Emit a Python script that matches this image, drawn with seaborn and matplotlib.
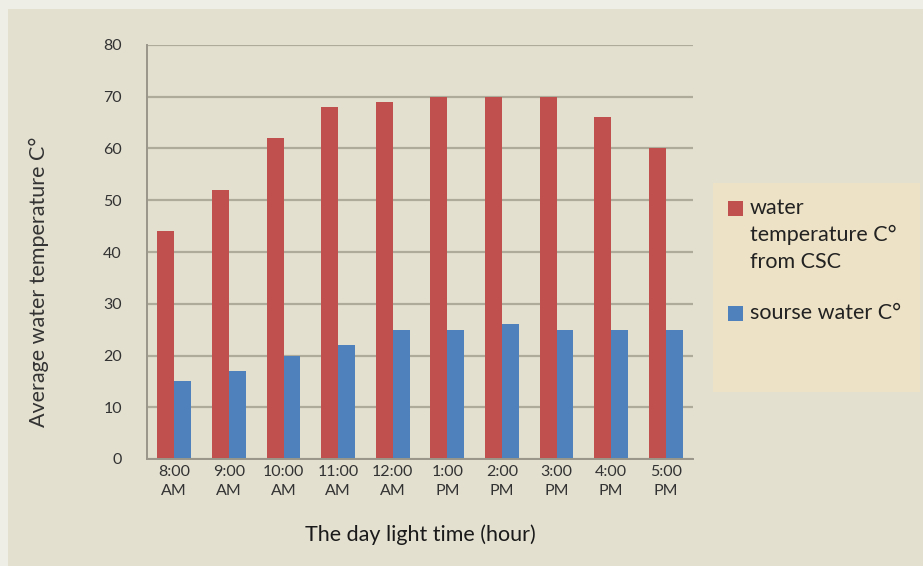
import matplotlib
matplotlib.use("Agg")
import matplotlib.pyplot as plt
import matplotlib.patches as mpatches
import seaborn as sns
import pandas as pd

times = ["8:00\nAM", "9:00\nAM", "10:00\nAM", "11:00\nAM", "12:00\nAM",
         "1:00\nPM", "2:00\nPM", "3:00\nPM", "4:00\nPM", "5:00\nPM"]
csc_temp = [44, 52, 62, 68, 69, 70, 70, 70, 66, 60]
source_temp = [15, 17, 20, 22, 25, 25, 26, 25, 25, 25]
series_names = ["water\ntemperature C\u00b0\nfrom CSC", "sourse water C\u00b0"]
yticks = [0, 10, 20, 30, 40, 50, 60, 70, 80]

df = pd.DataFrame({
    "time": times * 2,
    "value": csc_temp + source_temp,
    "series": [series_names[0]] * len(times) + [series_names[1]] * len(times),
})

sns.set_theme(style="white")
plt.rcParams['font.family'] = ['Lato', 'DejaVu Sans']

W, H = 923, 566
bg = "#e3e0d0"
fig = plt.figure(figsize=(9.23, 5.66), dpi=100, facecolor="#eeede6")
# slide background (thin lighter strip at top/left like the screenshot)
fig.patches.append(mpatches.Rectangle((8 / W, 0), 1, 1 - 9 / H, transform=fig.transFigure,
                                      facecolor=bg, edgecolor="none", zorder=-2))

ax = fig.add_axes([147 / W, 1 - 459 / H, (693 - 147) / W, (459 - 45) / H])
ax.set_facecolor(bg)

palette = {series_names[0]: "#c0504d", series_names[1]: "#4f81bd"}
sns.barplot(data=df, x="time", y="value", hue="series", palette=palette,
            width=0.62, ax=ax, saturation=1, legend=False, linewidth=0)

ax.set_ylim(0, 80)
ax.set_yticks(yticks)
ax.grid(axis="y", color="#aeab9b", linewidth=1.6)
ax.set_axisbelow(True)
for s in ["top", "right"]:
    ax.spines[s].set_visible(False)
ax.spines["left"].set_color("#9a978a")
ax.spines["left"].set_linewidth(1.4)
ax.spines["bottom"].set_color("#9a978a")
ax.spines["bottom"].set_linewidth(1.4)
ax.tick_params(axis="y", labelsize=11.5, colors="#333333", length=6, width=1.4,
               color="#9a978a", pad=12, direction="out")
ax.tick_params(axis="x", labelsize=11.5, colors="#333333", length=0, pad=4)
ax.set_xlim(-0.5, len(times) - 0.5)
ax.set_xticks(range(len(times)))
ax.set_xticklabels(times, linespacing=1.45)

ax.set_xlabel("The day light time (hour)", fontsize=15.5, color="#1a1a1a")
ax.xaxis.set_label_coords(0.5, (459 - 524) / 414)
ax.set_ylabel("Average water temperature C\u00b0", fontsize=15.5, color="#333333")
ax.yaxis.set_label_coords((49 - 147) / 546, (459 - 282) / 414)

# legend box (drawn manually to mirror the Excel-style legend)
fig.patches.append(mpatches.Rectangle((713 / W, 1 - 392 / H), (920 - 713) / W, (392 - 183) / H,
                                      transform=fig.transFigure, facecolor="#ede2c5",
                                      edgecolor="none", zorder=-1))
legend_rows = [(208, series_names[0]), (313, series_names[1])]
for yc, name in legend_rows:
    fig.patches.append(mpatches.Rectangle((728 / W, 1 - (yc + 7.5) / H), 15 / W, 15 / H,
                                          transform=fig.transFigure,
                                          facecolor=palette[name], edgecolor="none", zorder=1))
    for i, line in enumerate(name.split("\n")):
        fig.text(750 / W, 1 - (yc + 27 * i) / H, line, fontsize=15.5, color="#222222",
                 ha="left", va="center")

fig.savefig("out.png", dpi=100, facecolor=fig.get_facecolor())
